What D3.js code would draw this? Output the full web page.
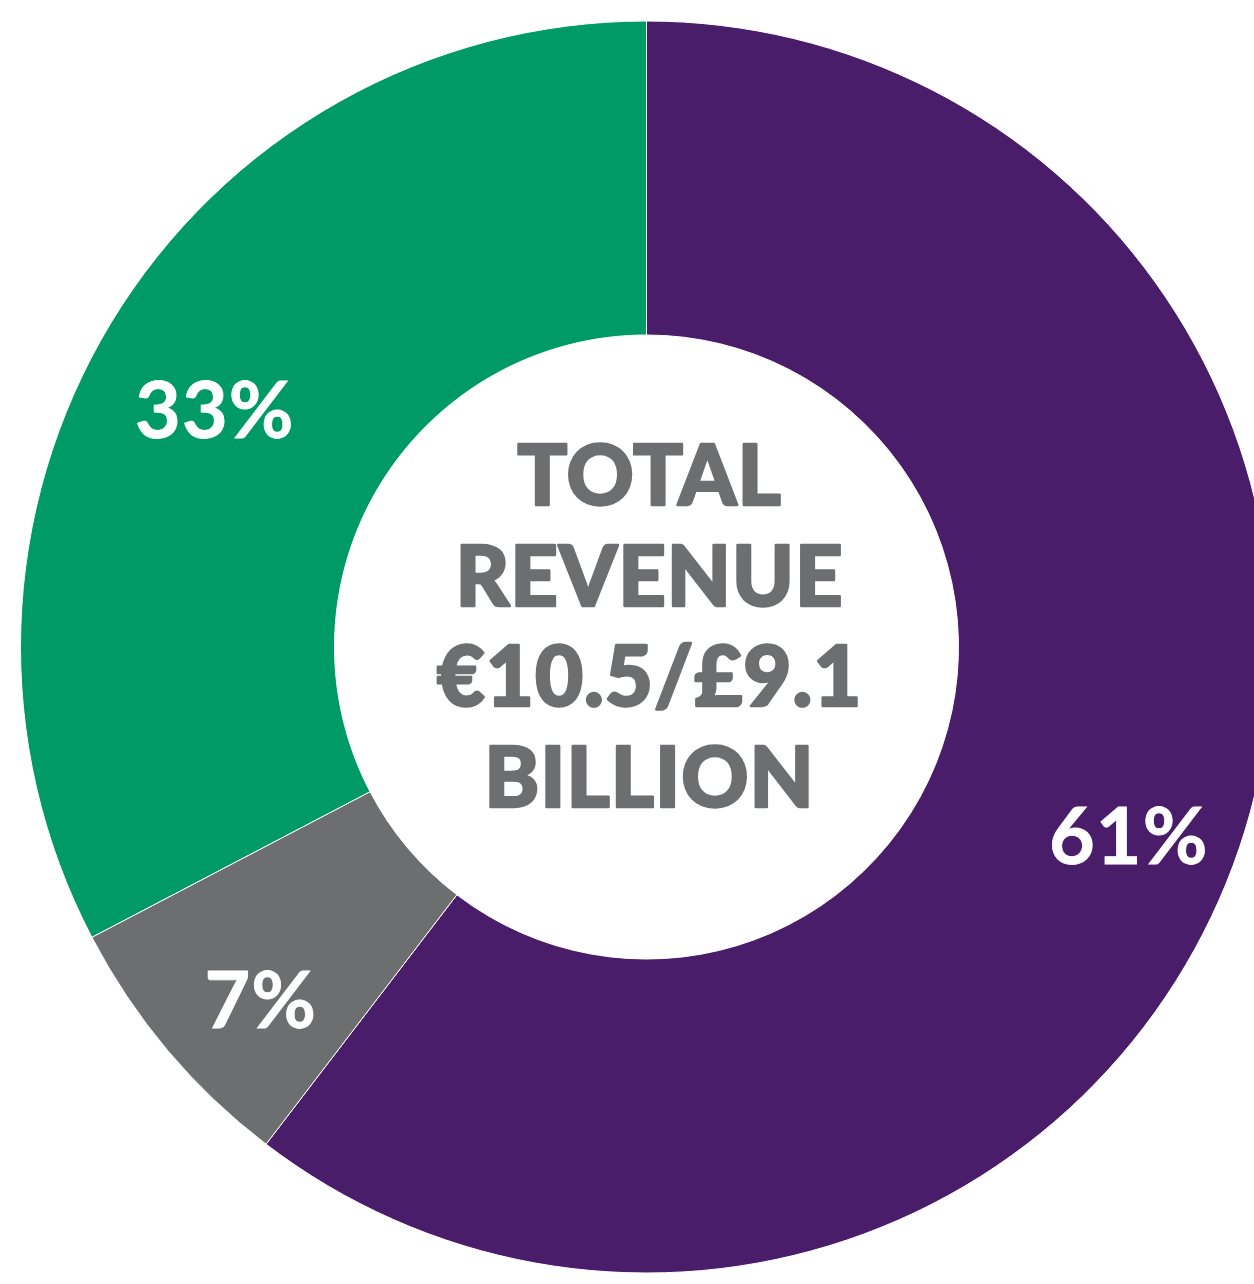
<!DOCTYPE html>
<html>
<head>
<meta charset="utf-8">
<script src="https://cdn.jsdelivr.net/npm/d3@7"></script>
<style>
  html, body { margin: 0; padding: 0; background: #ffffff; overflow: hidden; }
  svg { display: block; }
</style>
</head>
<body>
<script>
// Revenue split, percent of total
const segments = ["Segment A", "Segment B", "Segment C"];
const shares = [61, 7, 33];
const shareLabels = ["61%", "7%", "33%"];
const segmentColors = ["#4a1d6b", "#6d6e70", "#009a66"];
const centerLines = ["TOTAL", "REVENUE", "€10.5/£9.1", "BILLION"];

const W = 1254, H = 1284;
const cx = 646.5, cy = 647;
const outerR = 626, innerR = 312;

const svg = d3.select("body").append("svg")
  .attr("width", W).attr("height", H);

const g = svg.append("g").attr("transform", `translate(${cx},${cy})`);

const data = segments.map((s, i) => ({ name: s, value: shares[i], label: shareLabels[i], color: segmentColors[i] }));

const pie = d3.pie().value(d => d.value).sort(null);
const arc = d3.arc().innerRadius(innerR).outerRadius(outerR);
const labelArc = d3.arc().innerRadius(507).outerRadius(507);

const arcs = pie(data);

g.selectAll("path.slice")
  .data(arcs)
  .join("path")
  .attr("class", "slice")
  .attr("d", arc)
  .attr("fill", d => d.data.color)
  .attr("stroke", "#ffffff")
  .attr("stroke-width", 1);

// Percentage labels
g.selectAll("text.pct")
  .data(arcs)
  .join("text")
  .attr("class", "pct")
  .attr("x", d => labelArc.centroid(d)[0] + 2)
  .attr("y", d => labelArc.centroid(d)[1] + 54)
  .attr("text-anchor", "middle")
  .attr("fill", "#ffffff")
  .attr("stroke", "#ffffff")
  .attr("stroke-width", 0.8)
  .attr("font-family", "Lato, sans-serif")
  .attr("font-weight", 700)
  .attr("font-size", 79)
  .attr("letter-spacing", 1)
  .text(d => d.data.label);

// Center title
const lineGap = 100.5;
const firstBaseline = 505 - cy;
g.selectAll("text.center")
  .data(centerLines)
  .join("text")
  .attr("class", "center")
  .attr("x", 3)
  .attr("y", (d, i) => firstBaseline + i * lineGap)
  .attr("text-anchor", "middle")
  .attr("fill", "#6d6e70")
  .attr("stroke", "#6d6e70")
  .attr("stroke-width", 2.5)
  .attr("stroke-linejoin", "round")
  .attr("font-family", "Lato, sans-serif")
  .attr("font-weight", 900)
  .attr("font-size", 83)
  .attr("letter-spacing", 1)
  .text(d => d);
</script>
</body>
</html>
